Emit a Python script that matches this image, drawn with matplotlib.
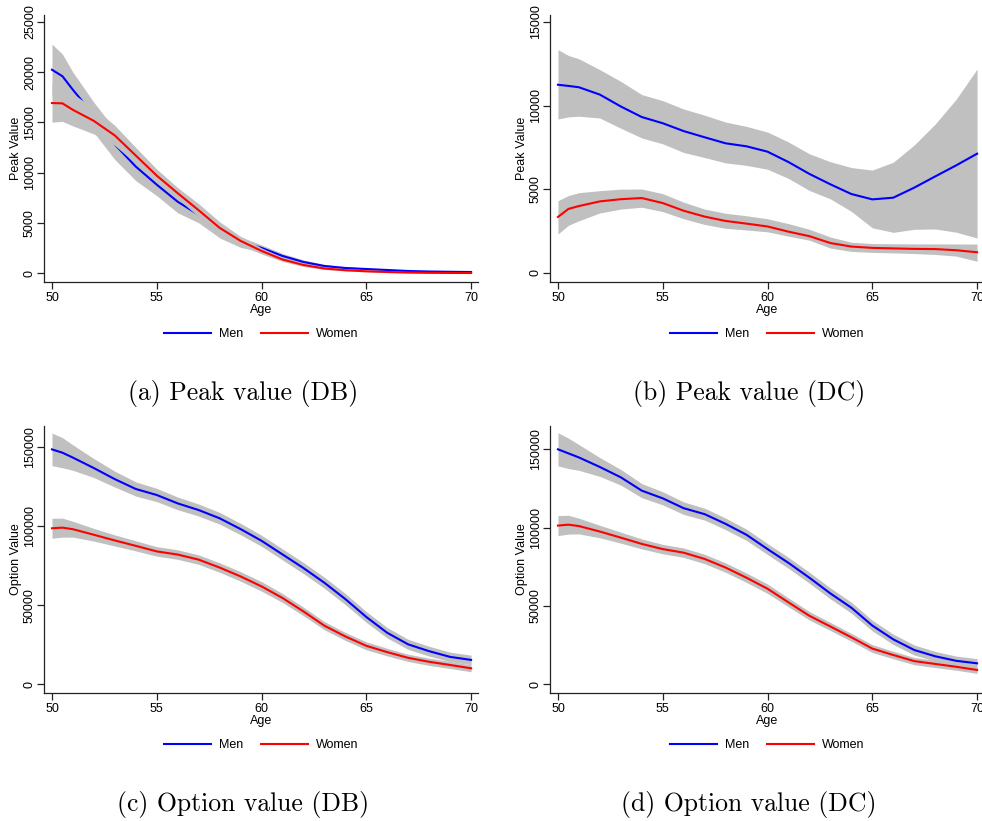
import matplotlib
matplotlib.use("Agg")
import numpy as np
import matplotlib.pyplot as plt

# ages on the x axis (same grid for every panel)
age = [50, 50.5, 51, 52, 53, 54, 55, 56, 57, 58, 59, 60,
       61, 62, 63, 64, 65, 66, 67, 68, 69, 70]

# (a) Peak value (DB)
a_men = [20250, 19600, 18250, 15700, 12800, 10600, 8800, 7100, 5800, 4100, 3100, 2500,
         1700, 1100, 700, 500, 400, 300, 200, 150, 120, 100]
a_men_lo = [17650, 17300, 16050, 14000, 11300, 9200, 7700, 6000, 5000, 3500, 2550, 2100,
            1450, 900, 550, 380, 300, 220, 140, 100, 80, 60]
a_men_hi = [22800, 21800, 20000, 17000, 14300, 12000, 9900, 8100, 6600, 4700, 3600, 2800,
            1950, 1300, 850, 620, 500, 380, 260, 200, 160, 140]
a_women = [16930, 16900, 16250, 15150, 13700, 11700, 9700, 7950, 6250, 4500, 3200, 2200,
           1350, 800, 450, 280, 170, 100, 50, 20, 5, 0]
a_women_ci = [1900, 1800, 1600, 1300, 1000, 800, 650, 550, 650, 600, 450, 300,
              200, 150, 100, 80, 60, 55, 50, 50, 50, 50]

# (b) Peak value (DC)
b_men = [11250, 11180, 11100, 10660, 9950, 9320, 8950, 8480, 8110, 7750, 7570, 7250,
         6630, 5920, 5300, 4720, 4400, 4500, 5100, 5770, 6430, 7130]
b_men_lo = [9200, 9330, 9370, 9260, 8650, 8070, 7720, 7200, 6900, 6580, 6430, 6200,
            5650, 4930, 4430, 3680, 2700, 2430, 2610, 2630, 2440, 2090]
b_men_hi = [13350, 13000, 12800, 12150, 11450, 10660, 10300, 9800, 9430, 9020, 8760, 8420,
            7830, 7120, 6650, 6300, 6150, 6620, 7650, 8900, 10380, 12190]
b_women = [3350, 3830, 4000, 4280, 4410, 4480, 4180, 3720, 3370, 3110, 2950, 2780,
           2470, 2200, 1790, 1580, 1500, 1470, 1440, 1430, 1360, 1240]
b_women_lo = [2330, 2850, 3120, 3590, 3820, 3930, 3670, 3240, 2900, 2670, 2570, 2460,
              2200, 1960, 1490, 1290, 1230, 1200, 1160, 1110, 1010, 700]
b_women_hi = [4320, 4630, 4800, 4920, 5010, 5020, 4740, 4230, 3820, 3570, 3420, 3240,
              2950, 2610, 2150, 1840, 1760, 1750, 1740, 1740, 1735, 1730]

# (c) Option value (DB)
c_men = [148300, 146200, 143100, 136500, 129500, 123300, 119500, 114200, 110000, 104800, 98000, 90600,
         82000, 73400, 64100, 53800, 42500, 32500, 25200, 20900, 17300, 15400]
c_men_ci = [10300, 9500, 8000, 6000, 5000, 4500, 4200, 4000, 3800, 3700, 3600, 3500,
            3500, 3500, 3500, 3500, 3400, 3300, 3200, 3100, 3000, 3000]
c_women = [98500, 98900, 97900, 94400, 90800, 87400, 83900, 81900, 78700, 73700, 68100, 61800,
           54500, 46000, 37000, 30200, 24300, 20300, 16700, 14200, 12200, 10100]
c_women_ci = [6300, 6000, 5000, 4000, 3500, 3200, 3000, 3000, 3000, 3000, 3000, 3000,
              2800, 2700, 2600, 2500, 2500, 2400, 2300, 2300, 2200, 2200]

# (d) Option value (DC)
d_men = [150000, 147400, 144800, 138700, 132100, 123600, 118700, 112400, 108600, 102400, 95400, 86300,
         77500, 68000, 58000, 48900, 37500, 28700, 21900, 17900, 15000, 13400]
d_men_ci = [10600, 9700, 8200, 6000, 5000, 4500, 4200, 4000, 3800, 3700, 3600, 3500,
            3500, 3500, 3500, 3500, 3400, 3300, 3200, 3100, 3000, 3000]
d_women = [101300, 101900, 101000, 97500, 93600, 89600, 86300, 84000, 80000, 74500, 68000, 61000,
           52300, 43700, 36900, 30000, 22800, 18700, 14800, 13000, 11200, 9150]
d_women_ci = [6400, 6000, 5000, 4000, 3500, 3200, 3000, 3000, 3000, 3000, 3000, 3000,
              2800, 2700, 2600, 2500, 2500, 2400, 2300, 2300, 2200, 2200]

captions = ["(a) Peak value (DB)", "(b) Peak value (DC)",
            "(c) Option value (DB)", "(d) Option value (DC)"]
ylabels = ["Peak Value", "Peak Value", "Option Value", "Option Value"]
yticks = [[0, 5000, 10000, 15000, 20000, 25000], [0, 5000, 10000, 15000],
          [0, 50000, 100000, 150000], [0, 50000, 100000, 150000]]
xticks = [50, 55, 60, 65, 70]

plt.rcParams['font.family'] = ['Liberation Sans', 'DejaVu Sans']
BAND = '#c0c0c0'
BLUE = '#0000ff'
RED = '#ff0000'

fig = plt.figure(figsize=(9.82, 8.21), dpi=100)
W, H = 982, 821


def add_axes(px_left, px_bottom, px_w, px_h):
    return fig.add_axes([px_left / W, (H - px_bottom) / H, px_w / W, px_h / H])


# axes boxes in pixels: left, bottom, width, height
boxes = [(44, 282, 434, 267), (550, 282, 434, 267),
         (44, 693, 434, 267), (550, 693, 434, 267)]
ylims = [(-896, 25700), (-538, 15418), (-5490, 163060), (-5550, 164870)]

men_lo = [a_men_lo, b_men_lo, np.subtract(c_men, c_men_ci), np.subtract(d_men, d_men_ci)]
men_hi = [a_men_hi, b_men_hi, np.add(c_men, c_men_ci), np.add(d_men, d_men_ci)]
men = [a_men, b_men, c_men, d_men]
women = [a_women, b_women, c_women, d_women]
women_lo = [np.subtract(a_women, a_women_ci), b_women_lo,
            np.subtract(c_women, c_women_ci), np.subtract(d_women, d_women_ci)]
women_hi = [np.add(a_women, a_women_ci), b_women_hi,
            np.add(c_women, c_women_ci), np.add(d_women, d_women_ci)]

for i in range(4):
    ax = add_axes(*boxes[i])
    # draw order like Stata: men band, men line, women band, women line
    # (women band covers the men line where they overlap)
    ax.fill_between(age, men_lo[i], men_hi[i], color=BAND, lw=0, zorder=1)
    ax.plot(age, men[i], color=BLUE, lw=1.5, label='Men', zorder=2)
    ax.fill_between(age, women_lo[i], women_hi[i], color=BAND, lw=0, zorder=3)
    ax.plot(age, women[i], color=RED, lw=1.5, label='Women', zorder=4)

    ax.set_xlim(49.62, 70.33)
    ax.set_ylim(*ylims[i])
    ax.set_xticks(xticks)
    ax.set_yticks(yticks[i])
    ax.spines['top'].set_visible(False)
    ax.spines['right'].set_visible(False)
    for s in ['left', 'bottom']:
        ax.spines[s].set_linewidth(0.9)
        ax.spines[s].set_color('#222222')
    ax.tick_params(direction='out', length=5, width=0.9, color='#222222',
                   labelsize=9, pad=2)
    ax.tick_params(axis='y', pad=0.8)
    for lbl in ax.get_yticklabels():
        lbl.set_rotation(90)
        lbl.set_va('center')
    ax.set_xlabel('Age', fontsize=9, labelpad=0)
    ax.set_ylabel(ylabels[i], fontsize=9, labelpad=1.5)
    ax.legend(loc='upper center', bbox_to_anchor=(0.5, -0.13), ncol=2, frameon=False,
              fontsize=9, handlelength=3.8, columnspacing=1.4, handletextpad=0.6)

    # caption under each panel
    cx = boxes[i][0] + 199
    cy = boxes[i][1] + 111
    fig.text(cx / W, 1 - cy / H, captions[i], family='cmr10', fontsize=18.5,
             ha='center', va='center')

fig.savefig('out.png', dpi=100)
